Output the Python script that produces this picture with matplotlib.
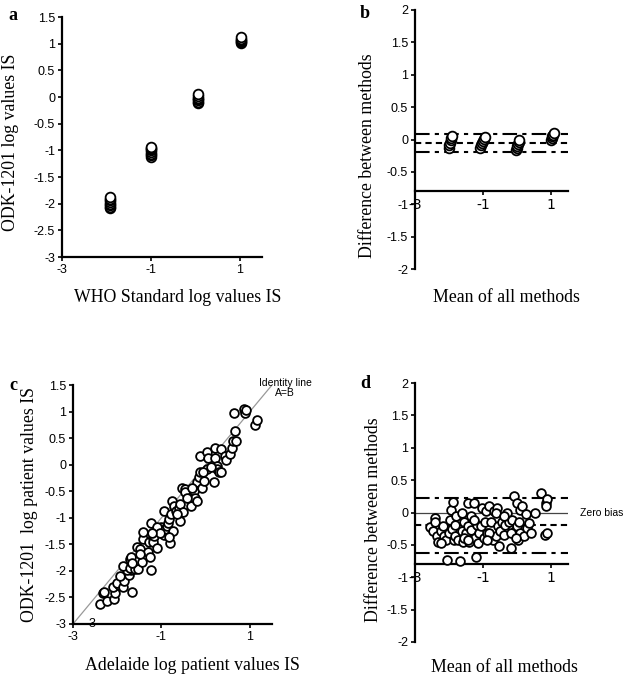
import numpy as np
import matplotlib
matplotlib.use('Agg')
import matplotlib.pyplot as plt

# Panel a: WHO standard vs ODK-1201 (log IS)
who_x = [-1.92] * 8 + [-1.0] * 8 + [0.05] * 7 + [1.02] * 6
odk_y = [-2.09, -2.06, -2.03, -2.0, -1.97, -1.94, -1.91, -1.88,
         -1.12, -1.09, -1.06, -1.03, -1.0, -0.98, -0.95, -0.93,
         -0.12, -0.09, -0.06, -0.03, -0.01, 0.02, 0.05,
         1.01, 1.03, 1.05, 1.07, 1.09, 1.12]

# Panel b: Bland-Altman for standards
b_mean = [-2.01, -1.99, -1.97, -1.95, -1.93, -1.91,
          -1.08, -1.05, -1.03, -1.0, -0.98, -0.95,
          -0.03, -0.01, 0.01, 0.03, 0.05, 0.07,
          1.0, 1.02, 1.04, 1.06, 1.08]
b_diff = [-0.13, -0.09, -0.05, -0.01, 0.02, 0.05,
          -0.13, -0.09, -0.06, -0.02, 0.01, 0.04,
          -0.16, -0.13, -0.1, -0.07, -0.04, 0.0,
          0.0, 0.02, 0.05, 0.07, 0.1]
b_upper, b_bias, b_lower = 0.09, -0.05, -0.19

# Panel c: patient samples, Adelaide vs ODK-1201
adel_x = [-2.40, -2.32, -2.31, -2.22, -2.08, -2.06, -2.09, -1.97, -2.00, -1.87,
          -1.84, -1.74, -1.68, -1.78, -1.88, -1.72, -1.68, -1.72, -1.66, -1.59,
          -1.54, -1.66, -1.55, -1.49, -1.44, -1.42, -1.41, -1.31, -1.29, -1.27,
          -1.23, -1.23, -1.20, -1.18, -1.16, -1.11, -1.00, -0.95, -0.95, -0.91,
          -0.87, -0.86, -0.83, -0.80, -0.78, -0.74, -0.76, -0.72, -0.68, -0.61,
          -0.58, -0.57, -0.53, -0.51, -0.47, -0.46, -0.34, -0.28, -0.27, -0.25,
          -0.19, -0.19, -0.15, -0.12, -0.13, -0.08, -0.03, 0.02, 0.03, 0.05,
          0.18, 0.22, 0.22, 0.25, 0.26, 0.30, 0.34, 0.35, 0.43, 0.47,
          0.56, 0.60, 0.62, 0.66, 0.69, 0.65, 0.86, 0.90, 1.11, 1.15,
          0.92, -1.10, -1.04, -0.83, -0.65, -0.42, -0.31, -0.06, 0.12, -1.49,
          -1.93, -1.21]
odk_pat_y = [-2.63, -2.42, -2.39, -2.57, -2.52, -2.41, -2.30, -2.27, -2.23, -2.31,
             -2.19, -2.08, -1.99, -1.99, -1.91, -1.78, -1.74, -1.94, -2.40, -1.97,
             -1.97, -1.86, -1.55, -1.59, -1.84, -1.40, -1.26, -1.64, -1.45, -1.74,
             -1.09, -1.98, -1.38, -1.45, -1.34, -1.57, -1.18, -0.88, -1.33, -1.21,
             -1.15, -1.09, -1.03, -1.47, -0.93, -1.25, -0.69, -0.77, -0.87, -0.82,
             -1.06, -0.75, -0.44, -0.89, -0.46, -0.52, -0.77, -0.57, -0.49, -0.62,
             -0.69, -0.33, -0.24, 0.17, -0.14, -0.43, -0.30, -0.08, 0.23, 0.13,
             -0.33, 0.31, 0.13, -0.02, -0.08, -0.13, -0.13, 0.30, 0.17, 0.09,
             0.20, 0.31, 0.44, 0.63, 0.44, 0.97, 1.05, 0.97, 0.75, 0.84,
             1.02, -1.18, -1.28, -1.37, -0.93, -0.62, -0.43, -0.14, -0.05, -1.69,
             -2.09, -1.28]

# Panel d: Bland-Altman for patient samples
d_mean = [-2.55, -2.41, -2.40, -2.47, -2.36, -2.31, -2.24, -2.19, -2.14, -2.09,
          -2.07, -2.01, -1.96, -1.93, -1.89, -1.91, -1.86, -1.83, -1.78, -1.75,
          -1.68, -1.63, -1.62, -1.59, -1.55, -1.50, -1.45, -1.44, -1.41, -1.36,
          -1.34, -1.26, -1.23, -1.21, -1.18, -1.14, -1.11, -1.06, -1.03, -0.98,
          -0.94, -0.92, -0.87, -0.82, -0.77, -0.72, -0.67, -0.63, -0.58, -0.56,
          -0.53, -0.50, -0.44, -0.39, -0.34, -0.29, -0.24, -0.19, -0.14, -0.09,
          -0.07, -0.01, 0.00, 0.02, 0.05, 0.08, 0.10, 0.15, 0.20, 0.25,
          0.30, 0.35, 0.42, 0.54, 0.72, 0.84, 0.87, 0.86, 0.82, 0.89,
          -1.55, -2.24, -0.82, -0.63, -0.19, -0.04, -1.45, -1.26, -0.89, -1.83,
          -0.39]
d_diff = [-0.23, -0.09, -0.15, -0.29, -0.37, -0.45, -0.29, -0.21, -0.37, -0.42,
          -0.73, -0.31, -0.11, 0.04, 0.16, -0.26, -0.42, -0.37, -0.06, -0.42,
          -0.75, -0.29, -0.01, -0.45, -0.14, -0.32, 0.15, -0.21, -0.45, -0.06,
          -0.27, 0.15, -0.40, -0.68, -0.19, -0.47, -0.32, -0.21, 0.07, -0.40,
          -0.14, 0.02, -0.32, 0.10, -0.15, -0.42, 0.02, -0.37, 0.07, -0.21,
          -0.51, -0.29, -0.14, -0.34, -0.19, -0.01, -0.14, -0.55, -0.11, 0.25,
          -0.29, 0.15, -0.21, -0.42, -0.14, 0.04, -0.32, 0.10, -0.37, -0.03,
          -0.24, -0.16, -0.32, -0.01, 0.30, 0.14, 0.21, 0.10, -0.34, -0.31,
          -0.40, -0.47, -0.32, -0.01, -0.32, -0.40, -0.42, -0.11, -0.42, -0.19,
          -0.06]
d_upper, d_bias, d_lower = 0.22, -0.20, -0.62

serif = 'Liberation Serif'
sans = 'Liberation Sans'
tick_fs = 9
lab_fs = 12.8

fig = plt.figure(figsize=(6.25, 6.77), dpi=100)

def fmt(v):
    return f'{v:g}'

def style(ax, xt, yt):
    for s in ['top', 'right']:
        ax.spines[s].set_visible(False)
    for s in ['left', 'bottom']:
        ax.spines[s].set_linewidth(1.6)
    ax.set_xticks(xt)
    ax.set_xticklabels([fmt(v) for v in xt], fontfamily=sans, fontsize=tick_fs)
    ax.set_yticks(yt)
    ax.set_yticklabels([fmt(v) for v in yt], fontfamily=sans, fontsize=tick_fs)
    ax.tick_params(direction='out', length=3, width=1.2, pad=2)

def circles(ax, x, y, ms=6.3):
    ax.plot(x, y, 'o', ms=ms, mfc='white', mec='black', mew=1.3, ls='none', zorder=3)

dashdot = (0, (7, 2.5, 2, 2.5))
dashed = (0, (3, 2))

# a
ax_a = fig.add_axes([62/625, 1-257/677, 200/625, 240/677])
circles(ax_a, who_x, odk_y, ms=7)
ax_a.set_xlim(-3, 1.5)
ax_a.set_ylim(-3, 1.5)
style(ax_a, [-3, -1, 1], np.arange(-3, 1.51, 0.5))

# b
ax_b = fig.add_axes([415/625, 1-269/677, 153/625, 259/677])
for yv, ls in [(b_upper, dashdot), (b_bias, dashed), (b_lower, dashdot)]:
    ax_b.plot([-3, 1.5], [yv, yv], color='black', lw=1.5, ls=ls, zorder=2)
circles(ax_b, b_mean, b_diff, ms=7)
ax_b.set_xlim(-3, 1.5)
ax_b.set_ylim(-2, 2)
style(ax_b, [-3, -1, 1], np.arange(-2, 2.01, 0.5))
ax_b.spines['bottom'].set_position(('data', -0.8))

# c
ax_c = fig.add_axes([73/625, 1-624/677, 199/625, 239/677])
ax_c.plot([-3, 1.5], [-3, 1.5], color='#999999', lw=0.9, zorder=2)
circles(ax_c, adel_x, odk_pat_y)
ax_c.set_xlim(-3, 1.5)
ax_c.set_ylim(-3, 1.5)
style(ax_c, [-3, -1, 1], np.arange(-3, 1.51, 0.5))
ax_c.text(-2.6, -3, '-3', fontfamily=sans, fontsize=tick_fs, ha='center', va='center', zorder=1)
ax_c.annotate('Identity line\nA=B', xy=(285/625, 1-388/677), xycoords='figure fraction',
              ha='center', va='center', fontfamily=sans, fontsize=7.5, linespacing=1.0,
              annotation_clip=False)

# d
ax_d = fig.add_axes([415/625, 1-642/677, 153/625, 259/677])
ax_d.plot([-3, 1.5], [0, 0], color='#444444', lw=0.9, zorder=2)
for yv, ls in [(d_upper, dashdot), (d_bias, dashed), (d_lower, dashdot)]:
    ax_d.plot([-3, 1.5], [yv, yv], color='black', lw=1.5, ls=ls, zorder=2)
circles(ax_d, d_mean, d_diff)
ax_d.set_xlim(-3, 1.5)
ax_d.set_ylim(-2, 2)
style(ax_d, [-3, -1, 1], np.arange(-2, 2.01, 0.5))
ax_d.spines['bottom'].set_position(('data', -0.8))
fig.text(580/625, 1-513/677, 'Zero bias', fontfamily=sans, fontsize=7.5, ha='left', va='center')

# axis labels
def lab(x, y, s, rot=0):
    fig.text(x/625, 1-y/677, s, fontfamily=serif, fontsize=lab_fs, ha='center', va='center', rotation=rot)

lab(178, 297, 'WHO Standard log values IS')
lab(11, 142, 'ODK-1201 log values IS', 90)
lab(506, 297, 'Mean of all methods')
lab(367, 156, 'Difference between methods', 90)
lab(192, 665, 'Adelaide log patient values IS')
lab(30, 505, 'ODK-1201  log patient values IS', 90)
lab(504, 667, 'Mean of all methods')
lab(373, 520, 'Difference between methods', 90)

# panel letters
for x, y, s in [(13, 15, 'a'), (365, 13, 'b'), (13, 385, 'c'), (365, 383, 'd')]:
    fig.text(x/625, 1-y/677, s, fontfamily=serif, fontsize=13, fontweight='bold', ha='center', va='center')

fig.savefig('out.png', dpi=100)
